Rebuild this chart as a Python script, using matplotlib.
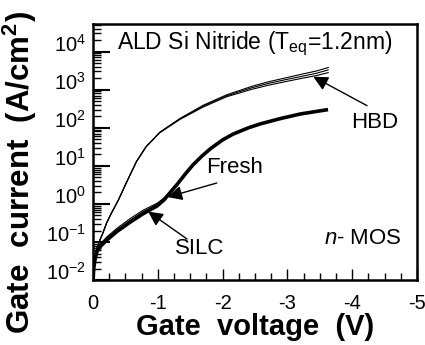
import numpy as np
import matplotlib
matplotlib.use('Agg')
import matplotlib.pyplot as plt
from matplotlib.ticker import FixedLocator, MultipleLocator, LogLocator, NullFormatter

matplotlib.rcParams['font.family'] = 'Liberation Sans'
matplotlib.rcParams['mathtext.fontset'] = 'custom'
matplotlib.rcParams['mathtext.rm'] = 'Liberation Sans'
matplotlib.rcParams['mathtext.it'] = 'Liberation Sans:italic'
matplotlib.rcParams['mathtext.bf'] = 'Liberation Sans:bold'

# gate voltage (V) and gate current density (A/cm^2)
hbd_v = [-0.01, -0.03, -0.06, -0.1, -0.15, -0.21, -0.28, -0.39, -0.51, -0.67, -0.82, -0.92, -1.03, -1.34, -1.70,
         -2.06, -2.45, -2.7, -2.95, -3.2, -3.45, -3.63]
hbd_j1 = [2.0e-2, 3.2e-2, 6.9e-2, 1.07e-1, 1.7e-1, 3.2e-1, 5.6e-1, 1.26e0, 3.5e0, 1.3e1, 3.2e1, 4.8e1, 7.6e1, 1.75e2,
          3.9e2, 7.3e2, 1.22e3, 1.6e3, 2.0e3, 2.5e3, 3.1e3, 3.8e3]
hbd_j2 = [2.0e-2, 3.2e-2, 6.9e-2, 1.07e-1, 1.7e-1, 3.2e-1, 5.6e-1, 1.26e0, 3.5e0, 1.3e1, 3.2e1, 4.8e1, 7.6e1, 1.7e2,
          3.7e2, 6.9e2, 1.12e3, 1.45e3, 1.8e3, 2.2e3, 2.7e3, 3.3e3]
hbd_j3 = [2.0e-2, 3.2e-2, 6.9e-2, 1.07e-1, 1.7e-1, 3.2e-1, 5.6e-1, 1.26e0, 3.5e0, 1.3e1, 3.2e1, 4.8e1, 7.4e1, 1.65e2,
          3.5e2, 6.5e2, 1.02e3, 1.3e3, 1.6e3, 1.95e3, 2.35e3, 2.8e3]

fresh_v = [0, -0.01, -0.03, -0.06, -0.12, -0.21, -0.37, -0.57, -0.77, -0.99, -1.1, -1.19, -1.3, -1.42, -1.54,
           -1.68, -1.81, -2.0, -2.16, -2.4, -2.58, -2.89, -3.2, -3.6]
fresh_j = [1.0e-2, 2.0e-2, 3.5e-2, 5.6e-2, 7.9e-2, 1.12e-1, 1.9e-1, 3.3e-1, 5.5e-1, 8.9e-1, 1.3e0, 2.0e0, 3.3e0,
           6.0e0, 1.05e1, 1.8e1, 2.8e1, 4.8e1, 6.8e1, 1.0e2, 1.26e2, 1.74e2, 2.3e2, 2.95e2]

silc_v = [0, -0.01, -0.03, -0.06, -0.12, -0.21, -0.37, -0.57, -0.77, -0.99, -1.1, -1.19, -1.3]
silc_j1 = [1.1e-2, 2.3e-2, 4.2e-2, 6.6e-2, 9.3e-2, 1.35e-1, 2.3e-1, 4.1e-1, 6.8e-1, 1.05e0, 1.45e0, 2.1e0, 3.4e0]
silc_j2 = [1.05e-2, 2.2e-2, 3.9e-2, 6.2e-2, 8.7e-2, 1.25e-1, 2.1e-1, 3.7e-1, 6.2e-1, 9.8e-1, 1.38e0, 2.05e0, 3.35e0]

xticks = [0, -1, -2, -3, -4, -5]
xtick_labels = ['0', '-1', '-2', '-3', '-4', '-5']
yticks = [1e-2, 1e-1, 1e0, 1e1, 1e2, 1e3, 1e4]
ytick_labels = ['10$^{-2}$', '10$^{-1}$', '10$^{0}$', '10$^{1}$', '10$^{2}$', '10$^{3}$', '10$^{4}$']

fig = plt.figure(figsize=(4.25, 3.45), dpi=100)
ax = fig.add_axes([0.219, 0.188, 0.762, 0.742])

for j in (hbd_j1, hbd_j2, hbd_j3):
    ax.plot(hbd_v, j, color='black', lw=0.8)
for j in (silc_j1, silc_j2):
    ax.plot(silc_v, j, color='black', lw=0.8)
ax.plot(fresh_v, fresh_j, color='black', lw=2.6)

ax.set_yscale('log')
ax.set_xlim(0, -5)
ax.set_ylim(1e-2, 10 ** 4.72)

ax.yaxis.set_major_locator(FixedLocator(yticks))
ax.yaxis.set_minor_locator(LogLocator(base=10, subs=np.arange(2, 10)))
ax.yaxis.set_minor_formatter(NullFormatter())
ax.set_yticks(yticks)
ax.set_yticklabels(ytick_labels)
for t in ax.get_yticklabels():
    t.set_va('baseline')
ax.set_xticks(xticks)
ax.set_xticklabels(xtick_labels)
ax.xaxis.set_minor_locator(MultipleLocator(0.25))

ax.tick_params(which='both', direction='in', top=False, right=False, labelsize=14.5)
ax.tick_params(axis='y', which='major', length=12, width=1.5, pad=5)
ax.tick_params(axis='y', which='minor', length=6, width=1)
ax.tick_params(axis='x', which='major', length=8, width=1, pad=10)
ax.tick_params(axis='x', which='minor', length=5, width=1)
for s in ax.spines.values():
    s.set_linewidth(1.8)

ax.set_xlabel('Gate  voltage  (V)', fontsize=21, fontweight='bold', labelpad=0)
ax.set_ylabel('Gate  current  (A/cm$^\\mathbf{2}$)', fontsize=22.5, fontweight='bold')
ax.yaxis.set_label_coords(-0.168, 0.42)

ax.text(-0.37, 10 ** 4.2, 'ALD Si Nitride (T$_{\\rm eq}$=1.2nm)', fontsize=16.5, va='center', ha='left')
ax.text(-4.77, 10 ** -0.92, '$n$- MOS', fontsize=16, va='center', ha='right')

arrow = dict(arrowstyle='-|>', mutation_scale=22, lw=1, color='black', shrinkA=0, shrinkB=0)
ax.text(-4.35, 10 ** 2.13, 'HBD', fontsize=16, ha='center', va='center')
ax.annotate('', xy=(-3.40, 10 ** 3.34), xytext=(-4.23, 10 ** 2.58), arrowprops=arrow)
ax.text(-1.74, 10 ** 0.95, 'Fresh', fontsize=16, va='center', ha='left')
ax.annotate('', xy=(-1.15, 10 ** 0.18), xytext=(-1.91, 10 ** 0.55), arrowprops=arrow)
ax.text(-1.65, 10 ** -1.18, 'SILC', fontsize=16, va='center', ha='center')
ax.annotate('', xy=(-0.85, 10 ** -0.2), xytext=(-1.45, 10 ** -0.92), arrowprops=arrow)

plt.savefig('out.png', dpi=100)
